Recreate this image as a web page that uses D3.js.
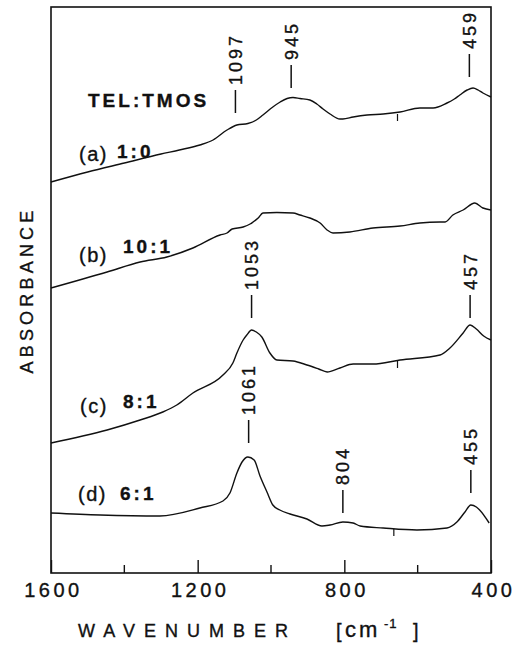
<!DOCTYPE html>
<html>
<head>
<meta charset="utf-8">
<script src="https://cdn.jsdelivr.net/npm/d3@7"></script>
<style>
  body { margin: 0; background: #fff; }
  svg { display: block; }
  text { font-family: 'Liberation Sans', Arial, sans-serif; fill: #111; stroke: #111; stroke-width: 0.35px; }
</style>
</head>
<body>
<div id="chart"></div>
<script>
// spectra (wavenumber in cm-1, absorbance in arbitrary offset units)
const wnA = [1600, 1500, 1400, 1300, 1250, 1194, 1158, 1120, 1093, 1063, 1040, 1022, 995, 975, 956, 940, 921, 894, 875, 858, 839, 812, 804, 776, 738, 694, 648, 594, 558, 520, 500, 485, 465, 449, 435, 422, 400];
const absA = [3.91, 4.01, 4.10, 4.19, 4.23, 4.28, 4.33, 4.43, 4.48, 4.495, 4.53, 4.58, 4.66, 4.71, 4.745, 4.755, 4.745, 4.73, 4.69, 4.64, 4.59, 4.54, 4.54, 4.56, 4.58, 4.59, 4.61, 4.65, 4.65, 4.70, 4.74, 4.78, 4.83, 4.85, 4.83, 4.80, 4.76];

const wnB = [1600, 1447, 1357, 1284, 1213, 1139, 1120, 1106, 1076, 1057, 1049, 1035, 1022, 984, 940, 921, 894, 866, 847, 831, 785, 722, 648, 594, 539, 525, 504, 476, 444, 422, 400];
const absB = [2.85, 3.01, 3.11, 3.16, 3.25, 3.38, 3.40, 3.44, 3.46, 3.49, 3.51, 3.55, 3.60, 3.605, 3.60, 3.58, 3.55, 3.50, 3.43, 3.40, 3.41, 3.45, 3.47, 3.50, 3.51, 3.51, 3.58, 3.63, 3.70, 3.65, 3.63];

const wnC = [1600, 1447, 1357, 1295, 1257, 1213, 1131, 1104, 1093, 1076, 1066, 1053, 1040, 1025, 1003, 984, 940, 902, 870, 847, 812, 776, 722, 648, 539, 512, 476, 457, 440, 420, 400];
const absC = [1.30, 1.43, 1.53, 1.61, 1.68, 1.80, 1.98, 2.10, 2.20, 2.33, 2.38, 2.43, 2.41, 2.36, 2.20, 2.13, 2.12, 2.08, 2.04, 2.01, 2.05, 2.09, 2.09, 2.13, 2.18, 2.25, 2.40, 2.48, 2.44, 2.37, 2.33];

const wnD = [1600, 1466, 1303, 1194, 1131, 1112, 1093, 1079, 1063, 1046, 1030, 1011, 995, 976, 948, 902, 861, 839, 804, 776, 757, 694, 602, 520, 493, 471, 455, 440, 431, 405];
const absD = [0.60, 0.58, 0.57, 0.65, 0.72, 0.80, 1.00, 1.11, 1.16, 1.13, 0.97, 0.81, 0.68, 0.63, 0.59, 0.54, 0.47, 0.48, 0.51, 0.50, 0.47, 0.45, 0.43, 0.45, 0.51, 0.61, 0.68, 0.66, 0.63, 0.50];

const seriesTag = ['(a)', '(b)', '(c)', '(d)'];
const seriesRatio = ['1:0', '10:1', '8:1', '6:1'];

// peak markers
const peakWn = [1097, 945, 459, 1053, 457, 1061, 804, 455];
const peakText = ['1097', '945', '459', '1053', '457', '1061', '804', '455'];
const peakLevel = [4.60, 4.85, 4.96, 2.55, 2.55, 1.30, 0.60, 0.80];

// small recorder ticks on the traces
const markWn = [655, 655, 665];
const markLevel = [4.59, 2.12, 0.44];

const majorTicks = [1600, 1200, 800, 400];
const minorTicks = [1400, 1000, 600];

const width = 523, height = 647;
const plotL = 51, plotR = 491, plotT = 7, plotB = 573;

const x = d3.scaleLinear().domain([1600, 400]).range([plotL, plotR]);
const y = d3.scaleLinear().domain([0, 5.66]).range([plotB, plotT]);

const svg = d3.select('#chart').append('svg')
    .attr('width', width)
    .attr('height', height);

// frame
svg.append('rect')
    .attr('x', plotL).attr('y', plotT)
    .attr('width', plotR - plotL).attr('height', plotB - plotT)
    .attr('fill', 'none')
    .attr('stroke', '#111')
    .attr('stroke-width', 1.6);

// bottom axis, ticks pointing in
const axis = svg.append('g')
    .attr('transform', `translate(0,${plotB})`)
    .call(d3.axisBottom(x).tickValues(majorTicks).tickSize(-13).tickPadding(24)
        .tickFormat(d3.format('d')));
axis.select('.domain').remove();
axis.selectAll('.tick line').attr('stroke', '#111').attr('stroke-width', 1.4);
axis.selectAll('.tick text')
    .attr('dy', 0)
    .attr('dx', 2)
    .style('font-size', '20px')
    .style('letter-spacing', '3.5px')
    .attr('fill', '#111');

svg.append('g')
    .selectAll('line')
    .data(minorTicks)
    .join('line')
    .attr('x1', d => x(d)).attr('x2', d => x(d))
    .attr('y1', plotB).attr('y2', plotB - 8)
    .attr('stroke', '#111')
    .attr('stroke-width', 1.4);

// axis titles
svg.append('text')
    .attr('x', 78).attr('y', 637)
    .style('font-size', '18px')
    .style('letter-spacing', '9px')
    .text('WAVENUMBER');

const unit = svg.append('text')
    .attr('x', 336).attr('y', 638)
    .style('font-size', '20px');
unit.append('tspan').text('[');
unit.append('tspan').attr('x', 345).attr('y', 637).style('font-size', '22px').style('letter-spacing', '3px').text('cm');
unit.append('tspan').attr('x', 384).attr('y', 628).style('font-size', '13px').style('letter-spacing', '1px').text('-1');
unit.append('tspan').attr('x', 413).attr('y', 638).text(']');

svg.append('text')
    .attr('transform', 'translate(33,290) rotate(-90)')
    .attr('text-anchor', 'middle')
    .style('font-size', '18px')
    .style('letter-spacing', '4.2px')
    .text('ABSORBANCE');

// spectra
const line = d3.line()
    .x(d => x(d[0]))
    .y(d => y(d[1]))
    .curve(d3.curveMonotoneX);

const spectra = [
    d3.zip(wnA, absA),
    d3.zip(wnB, absB),
    d3.zip(wnC, absC),
    d3.zip(wnD, absD)
];

svg.append('g')
    .selectAll('path')
    .data(spectra)
    .join('path')
    .attr('d', line)
    .attr('fill', 'none')
    .attr('stroke', '#111')
    .attr('stroke-width', 1.4)
    .attr('stroke-linejoin', 'round');

svg.append('g')
    .selectAll('line')
    .data(markWn)
    .join('line')
    .attr('x1', d => x(d)).attr('x2', d => x(d))
    .attr('y1', (d, i) => y(markLevel[i])).attr('y2', (d, i) => y(markLevel[i]) + 7)
    .attr('stroke', '#111')
    .attr('stroke-width', 1.2);

// peak markers: short vertical bar plus rotated number
const peaks = peakWn.map((w, i) => ({ w, t: peakText[i], v: peakLevel[i] }));
const pk = svg.append('g').selectAll('g').data(peaks).join('g');
pk.append('line')
    .attr('x1', d => x(d.w)).attr('x2', d => x(d.w))
    .attr('y1', d => y(d.v)).attr('y2', d => y(d.v) - 23)
    .attr('stroke', '#111')
    .attr('stroke-width', 1.5);
pk.append('text')
    .attr('transform', d => `translate(${x(d.w) + 6.5},${y(d.v) - 28}) rotate(-90)`)
    .style('font-size', '18px')
    .style('letter-spacing', '3px')
    .text(d => d.t);

// series labels
const tagX = [79, 79, 80, 78];
const tagY = [161, 262, 413, 501];
const ratioX = [117, 123, 123, 120];
const ratioY = [158, 253, 408, 500];
const lab = svg.append('g').selectAll('g').data(seriesTag).join('g');
lab.append('text')
    .attr('x', (d, i) => tagX[i]).attr('y', (d, i) => tagY[i])
    .style('font-size', '20px')
    .style('letter-spacing', '1.5px')
    .text(d => d);
lab.append('text')
    .attr('x', (d, i) => ratioX[i]).attr('y', (d, i) => ratioY[i])
    .style('font-size', '19px')
    .style('font-weight', 'bold')
    .style('letter-spacing', '3px')
    .text((d, i) => seriesRatio[i]);

svg.append('text')
    .attr('x', 88).attr('y', 107)
    .style('font-size', '19px')
    .style('font-weight', 'bold')
    .style('letter-spacing', '3px')
    .text('TEL:TMOS');
</script>
</body>
</html>
